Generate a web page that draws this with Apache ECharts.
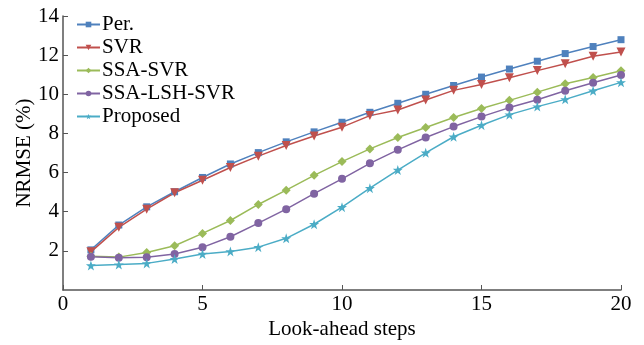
<!DOCTYPE html>
<html>
<head>
<meta charset="utf-8">
<script src="https://cdn.jsdelivr.net/npm/echarts@6/dist/echarts.min.js"></script>
<style>
  html, body { margin: 0; padding: 0; background: #fff; }
  #main { width: 644px; height: 345px; }
</style>
</head>
<body>
<div id="main"></div>
<script>
// look-ahead steps
var steps = [1, 2, 3, 4, 5, 6, 7, 8, 9, 10, 11, 12, 13, 14, 15, 16, 17, 18, 19, 20];

// NRMSE (%) per method
var perData = [2.05, 3.32, 4.25, 5.02, 5.75, 6.44, 7.02, 7.57, 8.08, 8.57, 9.08, 9.54, 10.0, 10.45, 10.88, 11.29, 11.69, 12.08, 12.44, 12.79];
var svrData = [1.95, 3.2, 4.13, 4.97, 5.61, 6.26, 6.84, 7.38, 7.87, 8.32, 8.91, 9.2, 9.71, 10.2, 10.5, 10.84, 11.21, 11.56, 11.94, 12.16];
var ssaSvrData = [1.72, 1.68, 1.92, 2.26, 2.89, 3.55, 4.37, 5.1, 5.86, 6.56, 7.21, 7.79, 8.3, 8.81, 9.27, 9.69, 10.11, 10.54, 10.86, 11.2];
var ssaLshSvrData = [1.7, 1.65, 1.67, 1.84, 2.18, 2.72, 3.42, 4.13, 4.92, 5.68, 6.47, 7.16, 7.79, 8.35, 8.86, 9.32, 9.72, 10.18, 10.59, 10.99];
var proposedData = [1.25, 1.3, 1.36, 1.58, 1.84, 1.97, 2.19, 2.64, 3.36, 4.23, 5.2, 6.13, 7.01, 7.83, 8.42, 8.96, 9.37, 9.74, 10.18, 10.61];

var xTicks = [0, 20, 5];   // min, max, interval
var yTicks = [0, 14, 2];

var starPath = "path://M50,0 L61.8,35.4 L99,35.4 L69,57.3 L80.4,92.7 L50,70.8 L19.6,92.7 L31,57.3 L1,35.4 L38.2,35.4 Z";

function pairs(vals) {
  return steps.map(function (s, i) { return [s, vals[i]]; });
}

var chartDom = document.getElementById("main");
var myChart = echarts.init(chartDom);
var font = "'Liberation Serif', 'Times New Roman', serif";
var axisColor = "#555";

function mkSeries(name, vals, color, symbol, size, rotate) {
  return {
    name: name,
    type: "line",
    data: pairs(vals),
    symbol: symbol,
    symbolSize: size,
    symbolRotate: rotate || 0,
    showAllSymbol: true,
    lineStyle: { color: color, width: 1.5 },
    itemStyle: { color: color },
    animation: false
  };
}

var option = {
  animation: false,
  textStyle: { fontFamily: font },
  grid: { left: 63, right: 23, top: 16, bottom: 55, containLabel: false, outerBoundsMode: "none" },
  legend: {
    orient: "vertical",
    left: 71,
    top: 9,
    itemWidth: 23,
    itemHeight: 7,
    itemGap: 2,
    textStyle: { fontFamily: font, fontSize: 21, color: "#000", padding: [0, 0, 0, -3] },
    data: ["Per.", "SVR", "SSA-SVR", "SSA-LSH-SVR", "Proposed"]
  },
  xAxis: {
    type: "value",
    min: xTicks[0],
    max: xTicks[1],
    interval: xTicks[2],
    name: "Look-ahead steps",
    nameLocation: "middle",
    nameGap: 29,
    nameMoveOverlap: false,
    nameTextStyle: { fontFamily: font, fontSize: 21, color: "#000" },
    axisLine: { show: true, lineStyle: { color: axisColor, width: 1.5 } },
    axisTick: { show: true, inside: true, length: 5, lineStyle: { color: axisColor } },
    axisLabel: { fontFamily: font, fontSize: 21, color: "#000", margin: 4 },
    splitLine: { show: false }
  },
  yAxis: {
    type: "value",
    min: yTicks[0],
    max: yTicks[1],
    interval: yTicks[2],
    name: "NRMSE (%)",
    nameLocation: "middle",
    nameGap: 28,
    nameMoveOverlap: false,
    nameTextStyle: { fontFamily: font, fontSize: 21, color: "#000" },
    axisLine: { show: true, lineStyle: { color: axisColor, width: 1.5 } },
    axisTick: { show: true, inside: true, length: 5, lineStyle: { color: axisColor } },
    axisLabel: { fontFamily: font, fontSize: 21, color: "#000", margin: 4, showMinLabel: false },
    splitLine: { show: false }
  },
  series: [
    mkSeries("Per.", perData, "#4F81BD", "rect", 7),
    mkSeries("SVR", svrData, "#C0504D", "triangle", 9, 180),
    mkSeries("SSA-SVR", ssaSvrData, "#9BBB59", "diamond", 9),
    mkSeries("SSA-LSH-SVR", ssaLshSvrData, "#8064A2", "circle", 8),
    mkSeries("Proposed", proposedData, "#4BACC6", starPath, 10)
  ]
};

option && myChart.setOption(option);
</script>
</body>
</html>
